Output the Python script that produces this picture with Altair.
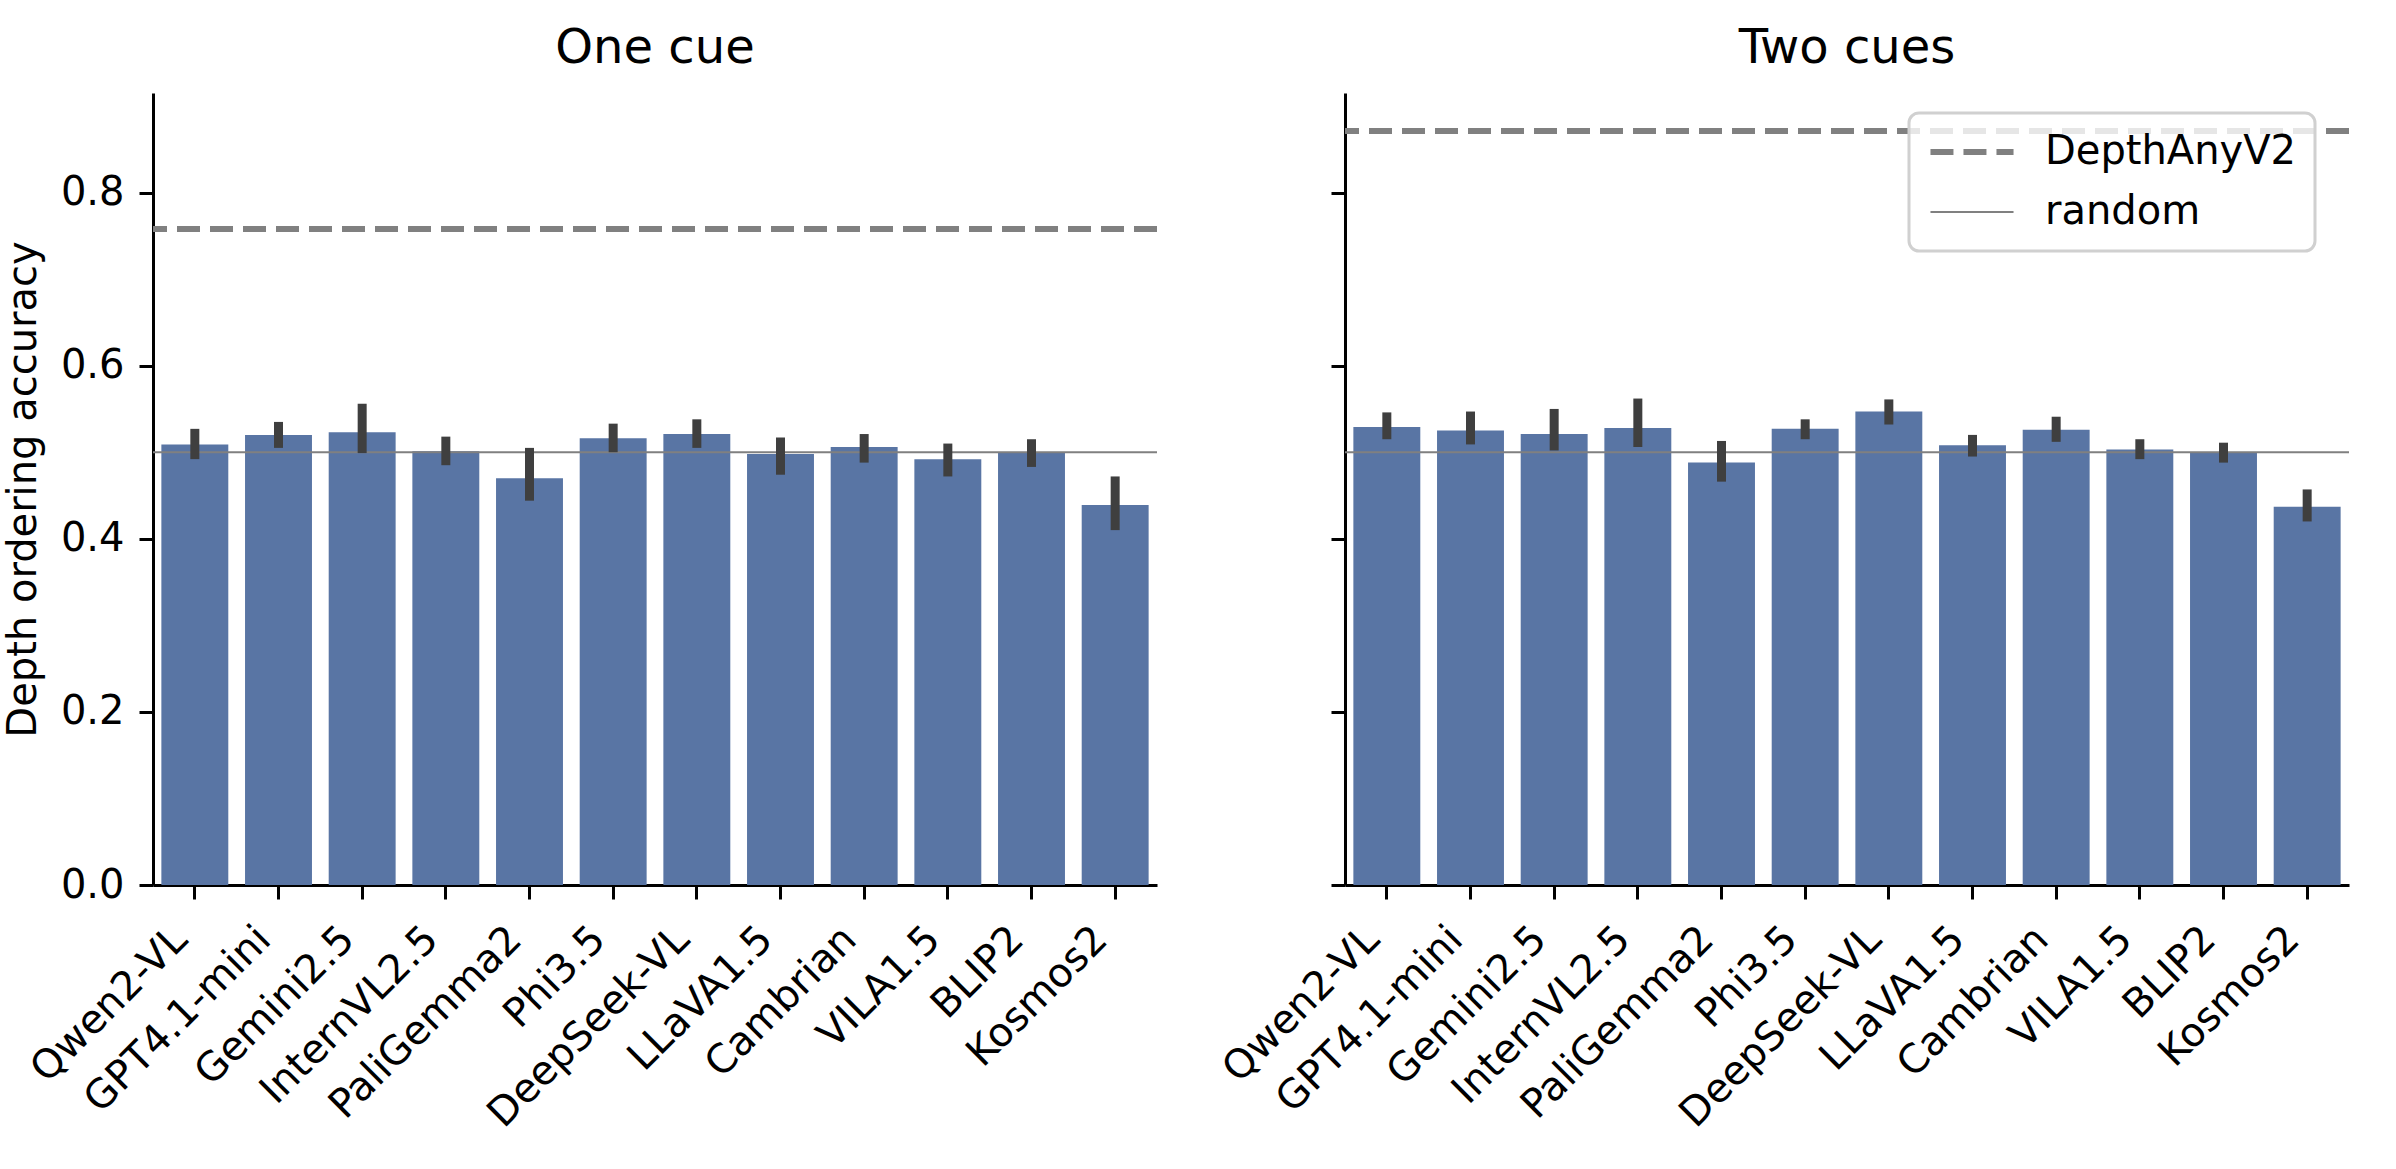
import altair as alt
import pandas as pd

models = ["Qwen2-VL", "GPT4.1-mini", "Gemini2.5", "InternVL2.5", "PaliGemma2", "Phi3.5",
          "DeepSeek-VL", "LLaVA1.5", "Cambrian", "VILA1.5", "BLIP2", "Kosmos2"]

one_mean = [0.509, 0.520, 0.523, 0.501, 0.470, 0.516, 0.521, 0.498, 0.506, 0.492, 0.499, 0.439]
one_lo = [0.492, 0.505, 0.499, 0.485, 0.444, 0.500, 0.505, 0.474, 0.488, 0.472, 0.483, 0.410]
one_hi = [0.527, 0.535, 0.556, 0.518, 0.505, 0.533, 0.538, 0.517, 0.521, 0.510, 0.515, 0.472]

two_mean = [0.529, 0.525, 0.521, 0.528, 0.488, 0.527, 0.547, 0.508, 0.526, 0.503, 0.500, 0.437]
two_lo = [0.515, 0.509, 0.502, 0.506, 0.466, 0.515, 0.532, 0.495, 0.512, 0.492, 0.488, 0.420]
two_hi = [0.546, 0.547, 0.550, 0.562, 0.513, 0.538, 0.561, 0.520, 0.541, 0.515, 0.511, 0.457]

depth_any = [0.758, 0.871]
random_level = 0.5
ref_kinds = ["DepthAnyV2", "random"]
panel_titles = ["One cue", "Two cues"]
y_ticks = [0.0, 0.2, 0.4, 0.6, 0.8]

FONT = "DejaVu Sans"

shared_legend = alt.Legend(
    orient="none", legendX=564, legendY=20, title=None,
    symbolType="stroke", symbolSize=6900, symbolStrokeColor="gray",
    labelFontSize=40, labelFont=FONT, labelColor="black", labelOffset=28,
    labelLimit=0, padding=18, rowPadding=18, clipHeight=42,
)


def panel(title, mean, lo, hi, dav, first, show_legend):
    df = pd.DataFrame({"model": models, "acc": mean, "lo": lo, "hi": hi})
    ref = pd.DataFrame({"kind": ref_kinds, "val": [dav, random_level]})
    xenc = alt.X(
        "model:N", sort=models, title=None,
        scale=alt.Scale(paddingInner=0.2, paddingOuter=0.1),
        axis=alt.Axis(labelAngle=-45, labelAlign="right", labelBaseline="bottom",
                      labelPadding=48, labelLimit=0),
    )
    yscale = alt.Scale(domain=[0, 0.915], nice=False, zero=True)
    if first:
        yaxis = alt.Axis(values=y_ticks, format=".1f", title="Depth ordering accuracy",
                         titleX=-150, titleY=396, titleBaseline="top", titleAlign="center",
                         titleAngle=270)
    else:
        yaxis = alt.Axis(values=y_ticks, format=".1f", labels=False, title=None)
    bars = alt.Chart(df).mark_bar(color="#5975A4").encode(
        x=xenc, y=alt.Y("acc:Q", scale=yscale, axis=yaxis)
    )
    err = alt.Chart(df).mark_rule(color="#3f3f3f", strokeWidth=9).encode(
        x=alt.X("model:N", sort=models), y=alt.Y("lo:Q", scale=yscale), y2="hi:Q"
    )
    leg = shared_legend if show_legend else None
    rules = alt.Chart(ref).mark_rule(color="gray").encode(
        y=alt.Y("val:Q", scale=yscale),
        strokeDash=alt.StrokeDash("kind:N", scale=alt.Scale(domain=ref_kinds, range=[[23, 10], [1, 0]]), legend=leg),
        strokeWidth=alt.StrokeWidth("kind:N", scale=alt.Scale(domain=ref_kinds, range=[6, 2]), legend=leg),
    )
    return alt.layer(bars, rules, err).properties(width=1004, height=792, title=title)


left = panel(panel_titles[0], one_mean, one_lo, one_hi, depth_any[0], True, False)
right = panel(panel_titles[1], two_mean, two_lo, two_hi, depth_any[1], False, True)

chart = alt.HConcatChart(hconcat=[left, right], spacing=188, bounds="flush").resolve_scale(
    strokeDash="independent", strokeWidth="independent"
).resolve_legend(strokeDash="independent", strokeWidth="independent").properties(
    padding={"left": 3, "top": 25, "right": 5, "bottom": 5}
).configure_view(stroke=None).configure_axis(
    domainColor="black", domainWidth=3, tickColor="black", tickWidth=3, tickSize=14,
    labelFontSize=40, labelFont=FONT, labelColor="black", labelPadding=15,
    titleFontSize=40, titleFont=FONT, titleFontWeight="normal", titleColor="black",
    grid=False,
).configure_legend(
    strokeColor="#d0d0d0", strokeWidth=3, cornerRadius=10,
    fillColor="rgba(255,255,255,0.8)",
).configure_title(
    fontSize=48, font=FONT, fontWeight="normal", color="black", anchor="middle",
    baseline="alphabetic", offset=20,
)

chart.save("out.html", embed_options={"renderer": "svg", "actions": False})
